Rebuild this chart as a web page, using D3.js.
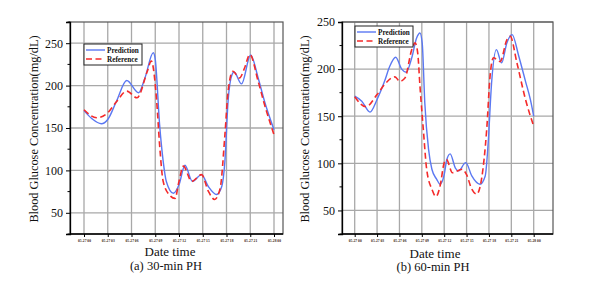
<!DOCTYPE html>
<html>
<head>
<meta charset="utf-8">
<script src="https://cdn.jsdelivr.net/npm/d3@7"></script>
<style>
  body { margin: 0; background: #fff; }
  svg { display: block; }
  svg text { font-family: "Times New Roman", "Liberation Serif", "DejaVu Serif", serif; }
</style>
</head>
<body>
<svg id="chart" width="596" height="285"></svg>
<script>
// hour ticks (0..24) and their labels
const tickHours = [0, 3, 6, 9, 12, 15, 18, 21, 24];
const tickLabels = ["05-27 00", "05-27 03", "05-27 06", "05-27 09", "05-27 12",
                    "05-27 15", "05-27 18", "05-27 21", "05-28 00"];
const yTicks = [50, 100, 150, 200, 250];

// (a) 30-min PH
const pred30Hours = [0, 1, 2.2, 3, 4.1, 5.4, 6.9, 7.7, 8.75, 9, 9.55, 10, 10.4, 11.3, 12, 12.75, 13.7,
                     14.85, 15.7, 16.75, 17.4, 17.8, 18.2, 18.7, 18.95, 19.9, 21.05, 22, 22.8, 24];
const pred30 = [170.5, 161, 155, 160, 181.6, 206, 191.5, 209, 238.7, 231, 154, 111, 87, 73, 83, 106, 87,
                95, 81, 71.5, 81, 111, 181.6, 213, 216, 202, 236, 209, 181.6, 148];
const ref30Hours = [0, 1.6, 3, 4.1, 5.4, 6.7, 8, 8.5, 9.18, 9.55, 10, 10.8, 11.5, 12, 12.55, 13.6,
                    14.85, 15.7, 16.5, 17.2, 17.8, 18.2, 18.8, 19.65, 20.25, 20.95, 22, 22.8, 24];
const ref30 = [171.5, 162, 168, 181, 193.5, 185.6, 217, 229, 181.6, 130, 87, 71, 67, 87, 105, 87,
               95, 75.5, 65.7, 79, 142, 193, 217, 209, 220, 236.7, 205, 177.7, 142];

// (b) 60-min PH
const pred60Hours = [0, 0.95, 2.05, 3, 4, 4.7, 5.5, 6.3, 6.9, 7.65, 8.3, 8.75, 9.05, 9.4, 9.9, 10.35,
                     11, 11.45, 12, 12.35, 12.8, 13.5, 13.9, 14.9, 15.7, 16.8, 17.5, 17.9, 18.35, 19,
                     19.7, 20.4, 21.1, 22, 22.9, 23.55, 24];
const pred60 = [171.3, 166, 154.4, 167.8, 187, 203, 212.6, 200, 196.7, 212, 233, 238.4, 227.8, 164, 115, 93.7,
                83, 77.8, 88, 104, 110, 95, 92, 100.7, 86.6, 77.8, 86.6, 122, 185, 220.7,
                206.6, 227.8, 236.6, 213.7, 187, 167.8, 150];
const ref60Hours = [0, 1.5, 3, 4, 5.4, 6.05, 6.75, 7.65, 8.1, 8.45, 8.75, 9.2, 9.65, 10.35, 10.9,
                    11.45, 12, 12.3, 13.1, 14.4, 15, 15.7, 16.35, 17, 17.7, 18.15, 18.6, 19.5, 20.4,
                    20.85, 21.75, 22.9, 24];
const ref60 = [170.6, 160, 173, 183.7, 191.8, 187, 190.7, 220.7, 227.8, 217, 182, 136, 93.7, 72.5, 64.7,
               76, 100.7, 104, 90, 93.7, 88, 72.5, 67.3, 83, 136, 192.5, 212, 208, 231,
               234.8, 206.6, 167.8, 139.5];

const svg = d3.select("#chart");

function drawPanel(p) {
  const x = d3.scaleLinear().domain([0, 24]).range([p.x0, p.x24]);
  const y = d3.scaleLinear().domain(p.yDomain).range([p.bottom, p.top]);
  const g = svg.append("g");

  // grid
  g.selectAll(".vgrid").data(tickHours).enter().append("line")
    .attr("x1", d => x(d)).attr("x2", d => x(d))
    .attr("y1", p.top).attr("y2", p.bottom)
    .attr("stroke", "#a8a8a8").attr("stroke-width", 1.3);
  g.selectAll(".hgrid").data(yTicks).enter().append("line")
    .attr("x1", p.left).attr("x2", p.right)
    .attr("y1", d => y(d)).attr("y2", d => y(d))
    .attr("stroke", "#a8a8a8").attr("stroke-width", 1.3);

  // frame
  g.append("rect")
    .attr("x", p.left).attr("y", p.top)
    .attr("width", p.right - p.left).attr("height", p.bottom - p.top)
    .attr("fill", "none").attr("stroke", "#555").attr("stroke-width", 1.2);

  // axes
  const yAxis = d3.axisLeft(y).tickValues(yTicks).tickSize(4).tickPadding(3);
  const ya = g.append("g").attr("transform", `translate(${p.left},0)`).call(yAxis);
  ya.attr("font-family", null);
  ya.select(".domain").attr("stroke", "#000").attr("stroke-width", 1.3);
  ya.selectAll(".tick line").attr("stroke", "#000");
  ya.selectAll("text").attr("font-size", 12).attr("fill", "#111");
  const minor = d3.range(p.yDomain[0], p.yDomain[1] + 1, 50).filter(v => !yTicks.includes(v));
  g.selectAll(".ymin").data(minor).enter().append("line")
    .attr("x1", p.left - 2.5).attr("x2", p.left)
    .attr("y1", d => y(d)).attr("y2", d => y(d)).attr("stroke", "#000");

  const xAxis = d3.axisBottom(x).tickValues(tickHours)
    .tickFormat((d, i) => tickLabels[i]).tickSize(3).tickPadding(2);
  const xa = g.append("g").attr("transform", `translate(0,${p.bottom})`).call(xAxis);
  xa.attr("font-family", null);
  xa.select(".domain").attr("d", `M${p.left},0H${p.right}`).attr("stroke", "#000").attr("stroke-width", 1.3);
  xa.selectAll(".tick line").attr("stroke", "#000");
  xa.selectAll("text").attr("font-size", 4).attr("font-weight", "bold").attr("fill", "#3a1c10")
    .attr("textLength", 13).attr("lengthAdjust", "spacingAndGlyphs");

  // lines
  const line = d3.line().x(d => x(d[0])).y(d => y(d[1])).curve(d3.curveMonotoneX);
  g.append("path").datum(d3.zip(p.predHours, p.pred))
    .attr("d", line).attr("fill", "none").attr("stroke", "#5b78f2").attr("stroke-width", 1.4);
  g.append("path").datum(d3.zip(p.refHours, p.ref))
    .attr("d", line).attr("fill", "none").attr("stroke", "#f42a2a").attr("stroke-width", 1.6)
    .attr("stroke-dasharray", "6,3.5");

  // legend
  const lg = g.append("g").attr("transform", `translate(${p.legX},${p.legY})`);
  lg.append("rect").attr("width", p.legW).attr("height", 21)
    .attr("fill", "#fff").attr("stroke", "#222").attr("stroke-width", 1);
  lg.append("line").attr("x1", 2).attr("x2", 21).attr("y1", 6).attr("y2", 6)
    .attr("stroke", "#5b78f2").attr("stroke-width", 1.4);
  lg.append("line").attr("x1", 2).attr("x2", 21).attr("y1", 15).attr("y2", 15)
    .attr("stroke", "#f42a2a").attr("stroke-width", 1.6).attr("stroke-dasharray", "6,3.5");
  lg.append("text").attr("x", 23).attr("y", 8.5).text("Prediction")
    .attr("font-size", 7.2).attr("font-weight", "bold").attr("fill", "#111");
  lg.append("text").attr("x", 23).attr("y", 17.5).text("Reference")
    .attr("font-size", 7.2).attr("font-weight", "bold").attr("fill", "#111");

  // titles
  g.append("text")
    .attr("transform", `translate(${p.yLabelX},${(p.top + p.bottom) / 2 + 1}) rotate(-90)`)
    .attr("text-anchor", "middle").attr("font-size", 12.3).attr("fill", "#111")
    .text("Blood Glucose Concentration(mg/dL)");
  g.append("text").attr("x", p.xLabelX).attr("y", p.xLabelY)
    .attr("text-anchor", "middle").attr("font-size", 13).attr("fill", "#111").text("Date time");
  g.append("text").attr("x", p.capX).attr("y", p.capY)
    .attr("text-anchor", "middle").attr("font-size", 12.5).attr("fill", "#111").text(p.caption);
}

drawPanel({
  left: 70, right: 283, top: 22, bottom: 234, x0: 84, x24: 274, yDomain: [25, 275],
  predHours: pred30Hours, pred: pred30, refHours: ref30Hours, ref: ref30,
  legX: 84, legY: 44, legW: 58,
  yLabelX: 38, xLabelX: 170, xLabelY: 255.5, capX: 166, capY: 270, caption: "(a) 30-min PH"
});

drawPanel({
  left: 342, right: 553, top: 22, bottom: 234, x0: 354.7, x24: 533.7, yDomain: [25, 250],
  predHours: pred60Hours, pred: pred60, refHours: ref60Hours, ref: ref60,
  legX: 355, legY: 26, legW: 58,
  yLabelX: 309, xLabelX: 435, xLabelY: 257.5, capX: 433, capY: 271, caption: "(b) 60-min PH"
});
</script>
</body>
</html>
